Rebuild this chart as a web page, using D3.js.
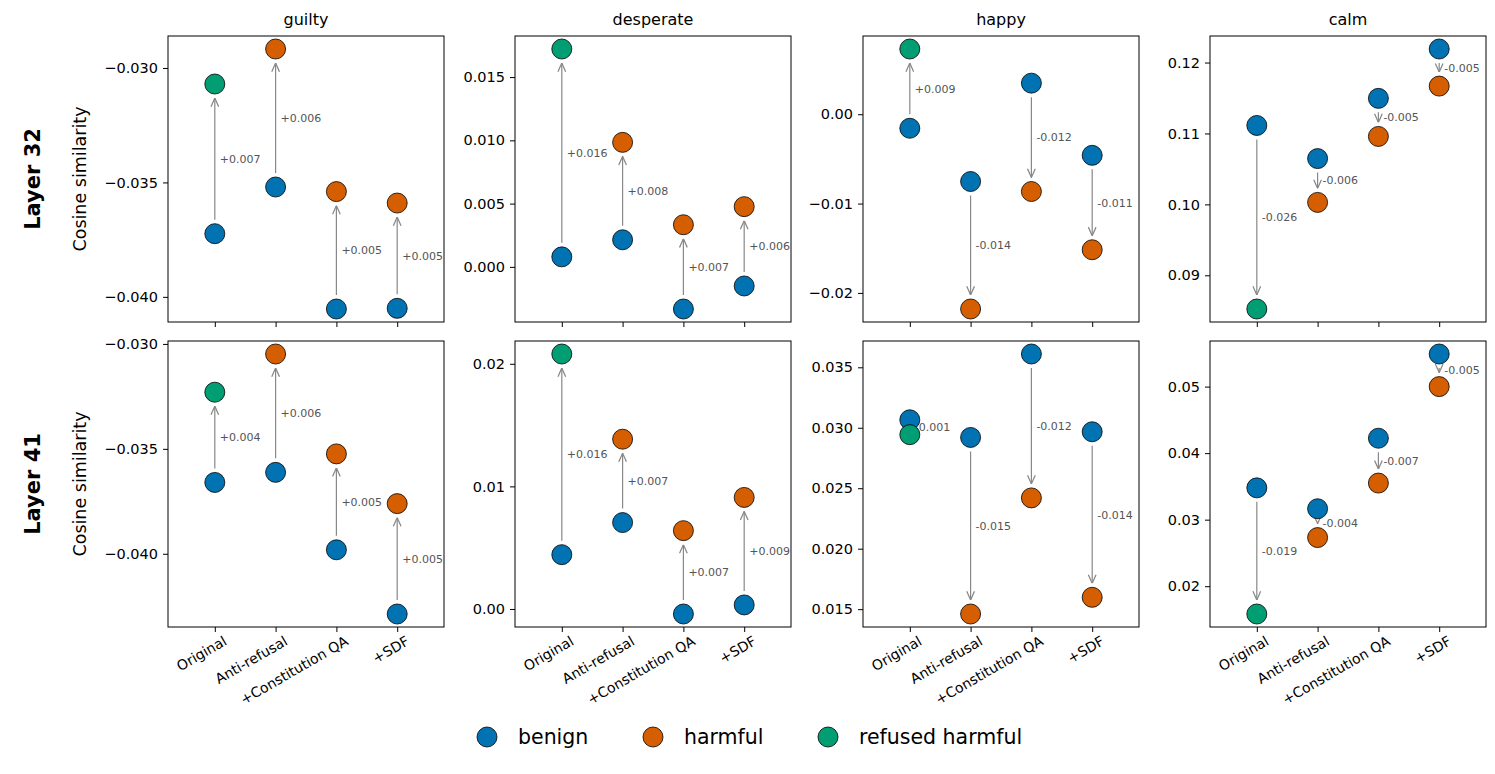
<!DOCTYPE html>
<html>
<head>
<meta charset="utf-8">
<script src="https://d3js.org/d3.v7.min.js"></script>
<style>
  body { margin: 0; background: #fff; }
  text { font-family: "DejaVu Sans", sans-serif; }
</style>
</head>
<body>
<svg id="chart" width="1495" height="774"></svg>
<script>
// categories and panels
var stages = ["Original", "Anti-refusal", "+Constitution QA", "+SDF"];
var emotions = ["guilty", "desperate", "happy", "calm"];
var layers = ["Layer 32", "Layer 41"];

// benign / harmful values per [layer][emotion], one per stage (Original harmful = refused harmful)
var benign = [
  [[-0.03724, -0.0352, -0.04053, -0.0405],
   [0.00079, 0.00214, -0.00333, -0.00151],
   [-0.00157, -0.00753, 0.00348, -0.0046],
   [0.11113, 0.10646, 0.11495, 0.12191]],
  [[-0.0366, -0.03612, -0.03981, -0.04287],
   [0.00443, 0.00705, -0.00041, 0.00033],
   [0.03066, 0.0292, 0.0361, 0.02967],
   [0.03478, 0.03164, 0.04224, 0.0549]]
];
var harmful = [
  [[-0.0307, -0.02917, -0.0354, -0.0359],
   [0.01722, 0.00984, 0.00333, 0.00476],
   [0.0073, -0.0218, -0.00865, -0.01517],
   [0.08525, 0.10028, 0.10958, 0.11668]],
  [[-0.0323, -0.03048, -0.03524, -0.03761],
   [0.0208, 0.01385, 0.00639, 0.0091],
   [0.02943, 0.0146, 0.0242, 0.01598],
   [0.01582, 0.02731, 0.0355, 0.05]]
];
var yTicks = [
  [[-0.030, -0.035, -0.040], [0.015, 0.010, 0.005, 0.000], [0.00, -0.01, -0.02], [0.12, 0.11, 0.10, 0.09]],
  [[-0.030, -0.035, -0.040], [0.02, 0.01, 0.00], [0.035, 0.030, 0.025, 0.020, 0.015], [0.05, 0.04, 0.03, 0.02]]
];
var tickDigits = [[3, 3, 2, 2], [3, 2, 3, 2]];
var legendNames = ["benign", "harmful", "refused harmful"];
var colors = {benign: "#0173B2", harmful: "#D55E00", refused: "#029E73"};

var svg = d3.select("#chart");
var colX = [168, 515, 863, 1210], rowY = [36, 341];
var pw = 276, ph = 286, r = 10;

layers.forEach(function(layer, li) {
  svg.append("text").attr("transform", "translate(40," + (rowY[li] + ph / 2) + ") rotate(-90)")
    .attr("text-anchor", "middle").style("font-size", "21px").style("font-weight", "bold").text(layer);
  svg.append("text").attr("transform", "translate(86," + (rowY[li] + ph / 2) + ") rotate(-90)")
    .attr("text-anchor", "middle").style("font-size", "17.5px").text("Cosine similarity");

  emotions.forEach(function(em, ei) {
    var g = svg.append("g").attr("transform", "translate(" + colX[ei] + "," + rowY[li] + ")");
    var b = benign[li][ei], h = harmful[li][ei];
    var all = b.concat(h);
    var lo = d3.min(all), hi = d3.max(all), pad = (hi - lo) * 0.05;
    var y = d3.scaleLinear().domain([lo - pad, hi + pad]).range([ph, 0]);
    var x = d3.scaleLinear().domain([-0.77, 3.77]).range([0, pw]);

    if (li === 0) g.append("text").attr("x", pw / 2).attr("y", -11).attr("text-anchor", "middle")
      .style("font-size", "16px").text(em);

    var yAxis = g.append("g").call(d3.axisLeft(y).tickValues(yTicks[li][ei]).tickSize(5).tickPadding(5)
      .tickFormat(function(d) { return d3.format("." + tickDigits[li][ei] + "f")(d).replace("-", "\u2212"); }));
    yAxis.select(".domain").remove();
    yAxis.selectAll("text").style("font-size", "14.5px").style("font-family", "DejaVu Sans");

    var xAxis = g.append("g").attr("transform", "translate(0," + ph + ")")
      .call(d3.axisBottom(x).tickValues([0, 1, 2, 3]).tickSize(5)
        .tickFormat(function(d) { return li === 1 ? stages[d] : ""; }));
    xAxis.select(".domain").remove();
    xAxis.selectAll("text").style("font-size", "14px").style("font-family", "DejaVu Sans")
      .attr("text-anchor", "end").attr("transform", "translate(5,4) rotate(-30)").attr("dy", "0.5em");

    g.append("rect").attr("width", pw).attr("height", ph).attr("fill", "none").attr("stroke", "#000").attr("stroke-width", 1);

    var defsId = "ah" + li + ei;
    g.append("defs").append("marker").attr("id", defsId).attr("viewBox", "0 0 10 10")
      .attr("refX", 10).attr("refY", 5).attr("markerWidth", 8).attr("markerHeight", 8).attr("orient", "auto")
      .append("path").attr("d", "M1,1 L10,5 L1,9").attr("fill", "none").attr("stroke", "#888").attr("stroke-width", 1.3);

    stages.forEach(function(s, si) {
      var x0 = x(si), yb = y(b[si]), yh = y(h[si]);
      var dir = yh < yb ? -1 : 1, gap = r + 4;
      g.append("line").attr("x1", x0).attr("x2", x0)
        .attr("y1", yb + dir * gap).attr("y2", yh - dir * gap)
        .attr("stroke", "#888").attr("stroke-width", 1.2).attr("marker-end", "url(#" + defsId + ")");
      var dlt = h[si] - b[si];
      g.append("text").attr("x", x0 + 5).attr("y", (yb + yh) / 2 + 4)
        .style("font-size", "11px").attr("fill", "#555")
        .text((dlt >= 0 ? "+" : "-") + Math.abs(dlt).toFixed(3));
      g.append("circle").attr("cx", x0).attr("cy", yb).attr("r", r)
        .attr("fill", colors.benign).attr("stroke", "#000").attr("stroke-width", 0.8);
      g.append("circle").attr("cx", x0).attr("cy", yh).attr("r", r)
        .attr("fill", si === 0 ? colors.refused : colors.harmful).attr("stroke", "#000").attr("stroke-width", 0.8);
    });
  });
});

// legend
var legX = [487, 653, 828];
var legCol = [colors.benign, colors.harmful, colors.refused];
legendNames.forEach(function(n, i) {
  svg.append("circle").attr("cx", legX[i]).attr("cy", 737).attr("r", 10)
    .attr("fill", legCol[i]).attr("stroke", "#000").attr("stroke-width", 0.8);
  svg.append("text").attr("x", legX[i] + 31).attr("y", 744).style("font-size", "20.5px").text(n);
});
</script>
</body>
</html>
